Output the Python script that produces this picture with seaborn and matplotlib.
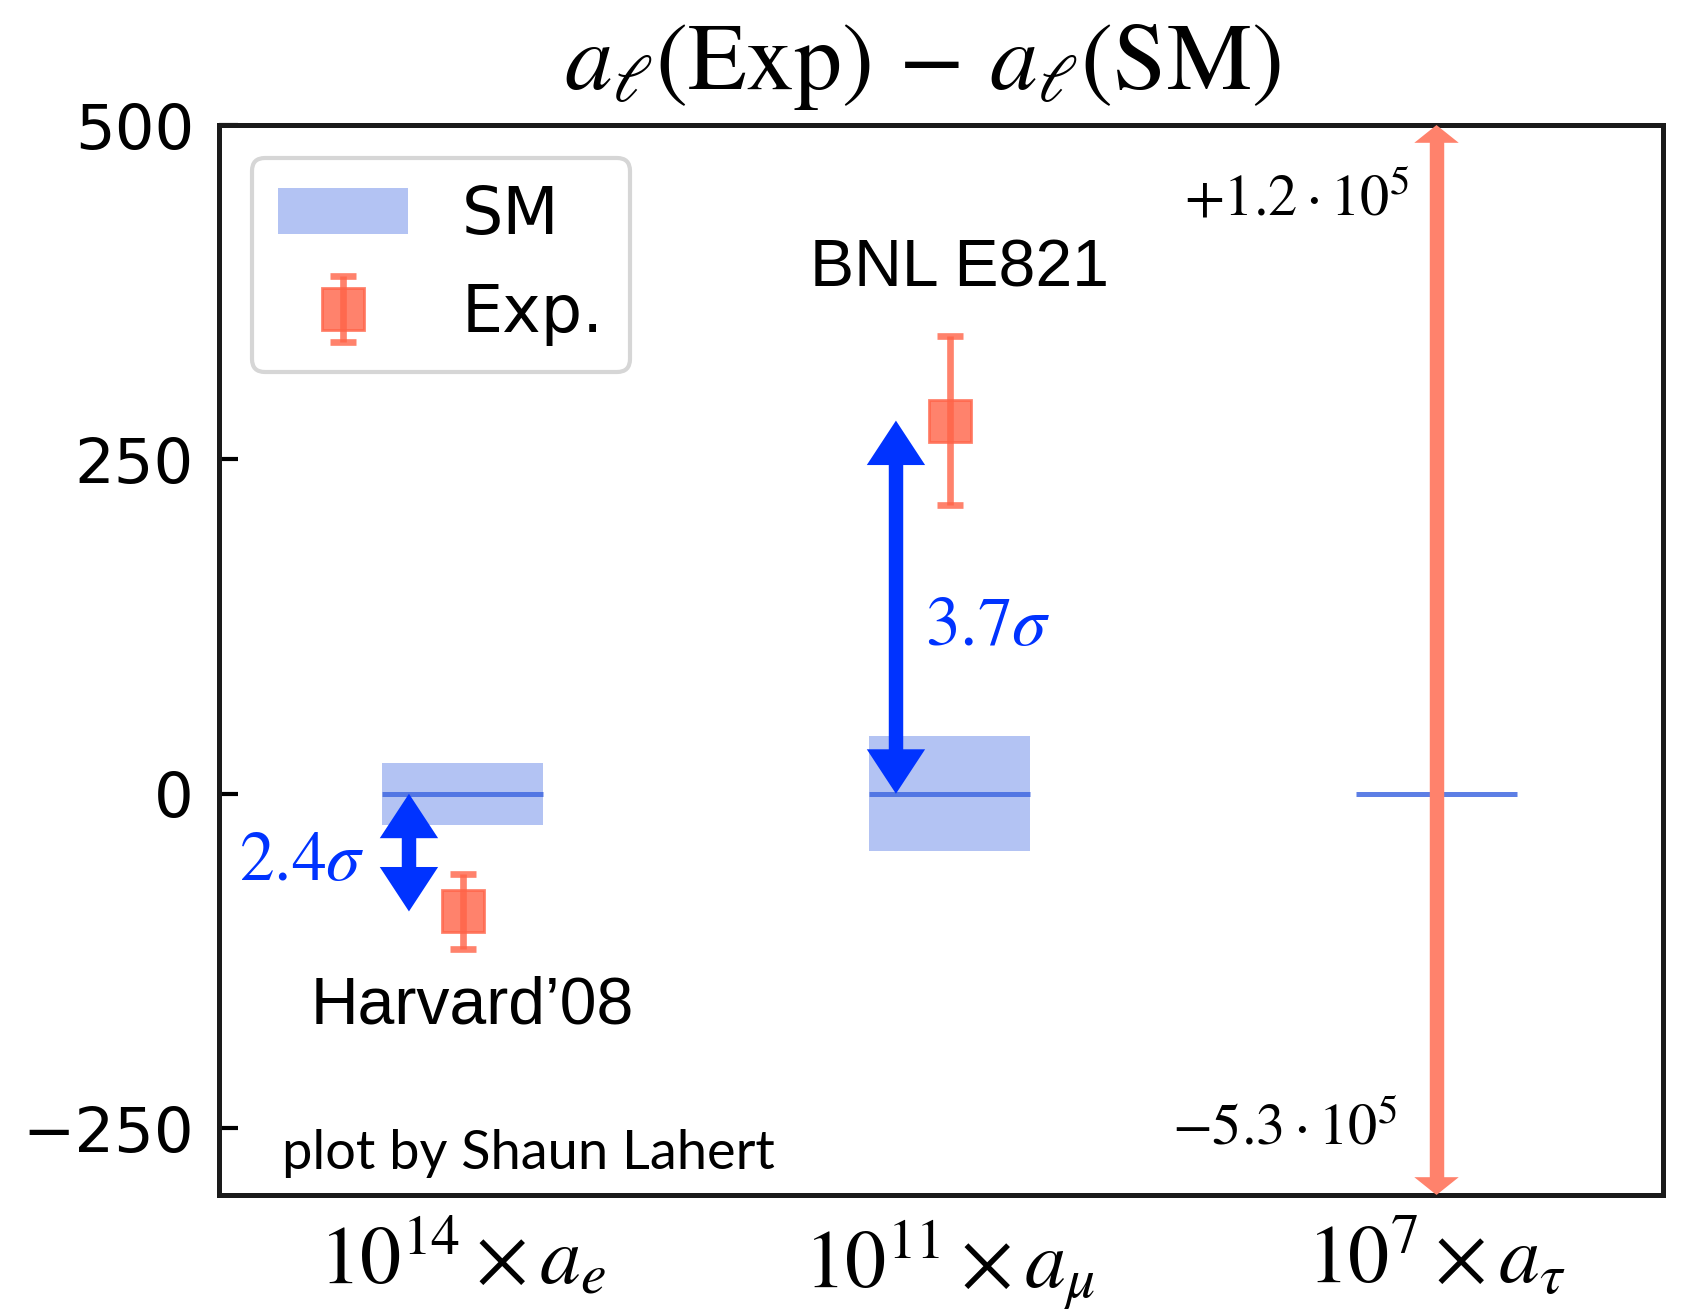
import numpy as np
import matplotlib
matplotlib.use('Agg')
import matplotlib.pyplot as plt
import matplotlib.patches as mpatches
import seaborn as sns

# anomalous magnetic moments, Exp - SM (scaled units per lepton)
leptons = [r'$10^{14}\times a_e$', r'$10^{11}\times a_\mu$', r'$10^{7}\times a_\tau$']
sm_val = [0, 0, 0]
sm_err = [23, 43, 0]
exp_val = [-88, 279]
exp_err = [28, 63]
tau_lo = -5.3e5
tau_hi = 1.2e5
sigma_txt = [r'$2.4\sigma$', r'$3.7\sigma$']
exp_names = ['Harvard\u201908', 'BNL E821']

sns.set_theme(style='ticks')
plt.rcParams['font.family'] = ['DejaVu Sans']
plt.rcParams['mathtext.fontset'] = 'stix'
for k in ['text.color', 'axes.labelcolor', 'xtick.color', 'ytick.color']:
    plt.rcParams[k] = 'black'

fig = plt.figure(figsize=(8.45, 6.56), dpi=200)
ax = fig.add_axes([0.1296, 0.0892, 0.8544, 0.8155])

x = np.arange(len(leptons))
band_w = 0.33
blue = 'royalblue'
red = 'tomato'
red_solid = '#ff826c'
arrow_blue = '#0033ff'
MS = 20  # arrow mutation scale, points


def pts_to_dy(ax, pts):
    inv = ax.transData.inverted()
    px = pts * fig.dpi / 72.0
    return abs(inv.transform((0, px))[1] - inv.transform((0, 0))[1])


def double_arrow(ax, xa, y0, y1, color, hl, hw, tw):
    # straight shaft plus a filled head at each end, tips exactly on y0 and y1
    sgn = np.sign(y1 - y0)
    hlen = pts_to_dy(ax, hl * MS)
    ax.vlines(xa, y0 + sgn * 0.6 * hlen, y1 - sgn * 0.6 * hlen, color=color,
              lw=tw * MS, capstyle='butt')
    style = f'simple,head_length={hl},head_width={hw},tail_width={tw * 0.9}'
    for yend, s in ((y0, -sgn), (y1, sgn)):
        ax.annotate('', xy=(xa, yend), xytext=(xa, yend - s * 1.4 * hlen),
                    arrowprops=dict(arrowstyle=style, mutation_scale=MS, lw=0,
                                    color=color, shrinkA=0, shrinkB=0))


# SM bands + central lines
ax.bar(x, height=2 * np.array(sm_err), bottom=np.array(sm_val) - np.array(sm_err),
       width=band_w, color=blue, alpha=0.4, linewidth=0)
ax.hlines(sm_val, x - band_w / 2, x + band_w / 2, color=blue, lw=1.8, alpha=0.85)

# experiments
exp_cont = ax.errorbar(x[:2], exp_val, yerr=exp_err, fmt='s', color=red, alpha=0.8,
                       ms=15, capsize=4.7, elinewidth=2.4, capthick=2.4)

ax.set_ylim(-300, 500)
ax.set_xlim(-0.5, 2.465)
ylo, yhi = ax.get_ylim()

# tau: bounds far outside the plotted range
double_arrow(ax, x[2], max(tau_lo, ylo), min(tau_hi, yhi), red_solid, 0.32, 0.8, 0.26)
ax.text(x[2] - 0.055, 445, r'$+1.2\cdot10^5$', ha='right', va='center', fontsize=21)
ax.text(x[2] - 0.08, -250, r'$-5.3\cdot10^5$', ha='right', va='center', fontsize=21)

# deviation arrows
for i in range(2):
    double_arrow(ax, x[i] - 0.11, sm_val[i], exp_val[i], arrow_blue, 0.8, 1.05, 0.26)
ax.text(x[0] - 0.2, -50, sigma_txt[0], color=arrow_blue, ha='right', va='center', fontsize=25)
ax.text(x[1] - 0.05, 126, sigma_txt[1], color=arrow_blue, ha='left', va='center', fontsize=25)

ax.text(x[0] + 0.02, -159, exp_names[0], ha='center', va='center', fontsize=23.8,
        family=['Liberation Sans'])
ax.text(x[1] + 0.02, 392, exp_names[1], ha='center', va='center', fontsize=23.8,
        family=['Liberation Sans'])
ax.text(-0.37, -269, 'plot by Shaun Lahert', ha='left', va='center', fontsize=19.5,
        family=['Lato'])

# axes styling
ax.set_yticks([-250, 0, 250, 500])
ax.set_xticks(x)
ax.set_xticklabels(leptons, fontsize=29.5)
ax.tick_params(axis='y', direction='in', length=7, width=1.5, labelsize=22.5, pad=9)
ax.tick_params(axis='x', length=0, pad=8)
for s in ax.spines.values():
    s.set_linewidth(1.8)
    s.set_color('#1a1a1a')
    s.set_visible(True)
ax.grid(False)

# legend
sm_handle = mpatches.Patch(color=blue, alpha=0.4, linewidth=0)
leg = ax.legend([sm_handle, exp_cont], ['SM', 'Exp.'], loc='upper left',
                fontsize=23.5, frameon=True, fancybox=True, handlelength=2.0,
                handletextpad=0.82, labelspacing=0.52)
leg.get_frame().set_edgecolor('#cccccc')
leg.get_frame().set_linewidth(1.5)

fig.text(0.5456, 0.950, r'$a_\ell(\mathrm{Exp})\,-\,a_\ell(\mathrm{SM})$',
         ha='center', va='center', fontsize=34.5)

fig.savefig('out.png', dpi=200)
